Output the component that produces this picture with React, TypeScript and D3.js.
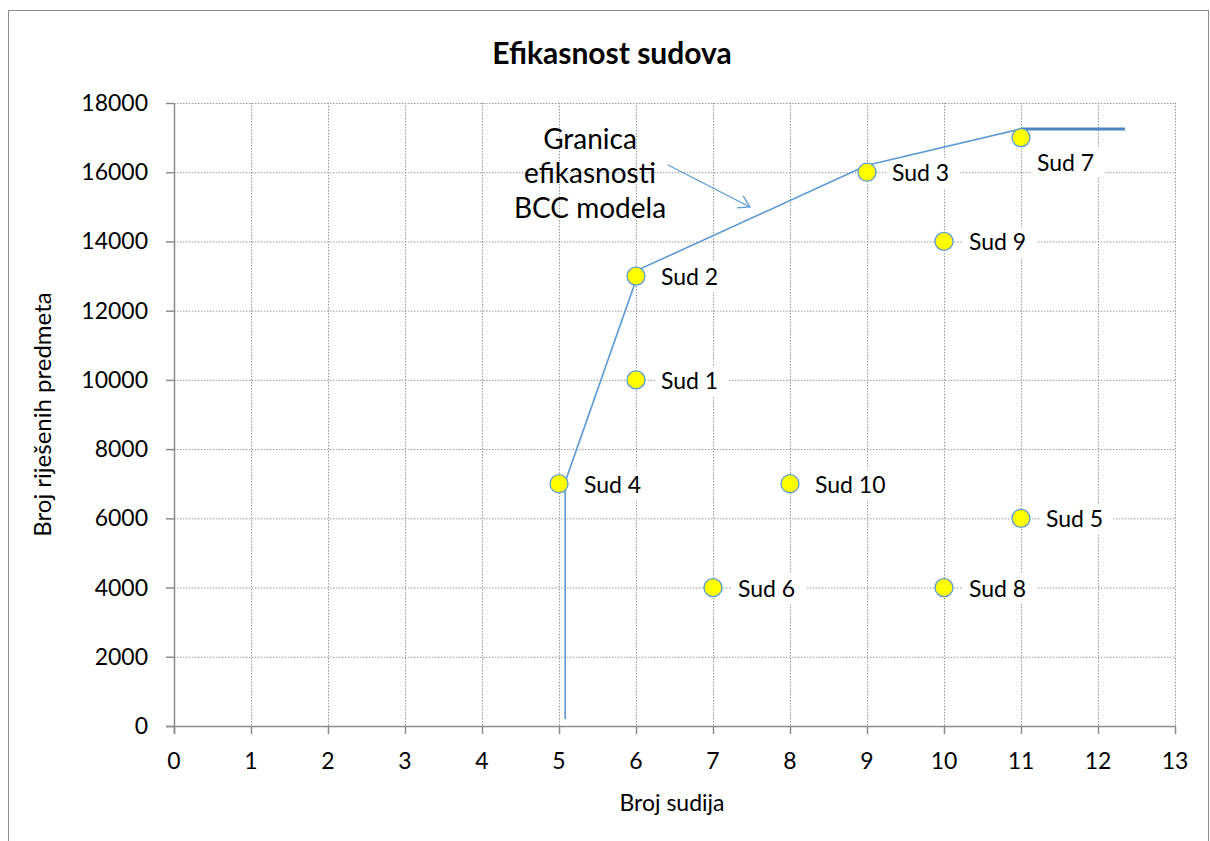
import React, { useEffect } from 'react';
import * as d3 from 'd3';

// courts: judges vs solved cases
const courts = ['Sud 1', 'Sud 2', 'Sud 3', 'Sud 4', 'Sud 5', 'Sud 6', 'Sud 7', 'Sud 8', 'Sud 9', 'Sud 10'];
const judges = [6, 6, 9, 5, 11, 7, 11, 10, 10, 8];
const solved = [10000, 13000, 16000, 7000, 6000, 4000, 17000, 4000, 14000, 7000];

// BCC efficiency frontier (as drawn)
const frontierX = [5.08, 5.08, 6.05, 9, 11];
const frontierY = [200, 7050, 13200, 16200, 17250];
const frontierTailX = [11, 12.35];
const frontierTailY = [17250, 17250];

const xTicks = d3.range(0, 14);
const yTicks = d3.range(0, 18001, 2000);

const W = 1210;
const H = 841;
const margin = { left: 174, right: 35, top: 103, bottom: 115 };
const font = 'Lato, "Open Sans", sans-serif';

const App = () => {
  useEffect(() => {
    document.body.style.margin = '0';
  }, []);

  const x = d3.scaleLinear().domain([0, 13]).range([margin.left, W - margin.right]);
  const y = d3.scaleLinear().domain([0, 18000]).range([H - margin.bottom, margin.top]);

  const line = d3.line<number>().x((d, i) => x(frontierX[i])).y((d, i) => y(frontierY[i]));
  const tail = d3.line<number>().x((d, i) => x(frontierTailX[i])).y((d, i) => y(frontierTailY[i]));

  const x0 = x(0), x1 = x(13), y0 = y(0), y1 = y(18000);

  // arrow pointing at the frontier
  const ax1 = 668, ay1 = 165, ax2 = 750, ay2 = 207;
  const ang = Math.atan2(ay2 - ay1, ax2 - ax1);
  const head = 13;
  const hp = [ang + 2.6, ang - 2.6].map(a => [ax2 + head * Math.cos(a), ay2 + head * Math.sin(a)]);

  const labelPos = courts.map((c, i) => {
    const cx = x(judges[i]);
    const cy = y(solved[i]);
    const below = c === 'Sud 7';
    return { c, cx, cy, lx: below ? cx + 16 : cx + 25, ly: below ? cy + 25 : cy + 1 };
  });

  return (
    <svg width={W} height={H} style={{ display: 'block', fontFamily: font }}>
      <rect x={0} y={0} width={W} height={H} fill="#fff" />
      <rect x={8.5} y={10.5} width={1200} height={H + 10} fill="none" stroke="#8c8c8c" strokeWidth={1} />

      <text x={612} y={64} textAnchor="middle" fontSize={30} fontWeight="bold" fill="#000">Efikasnost sudova</text>

      {/* grid */}
      {yTicks.filter(t => t > 0).map(t => (
        <line key={'gy' + t} x1={x0} x2={x1} y1={y(t) + 0.5} y2={y(t) + 0.5} stroke="#9a9a9a" strokeDasharray="1.5,1.5" />
      ))}
      {xTicks.filter(t => t > 0).map(t => (
        <line key={'gx' + t} x1={x(t) + 0.5} x2={x(t) + 0.5} y1={y1} y2={y0} stroke="#9a9a9a" strokeDasharray="1.5,1.5" />
      ))}

      {/* label backgrounds hide the grid */}
      {labelPos.map(p => (
        <rect key={'bg' + p.c} x={p.lx - 6} y={p.ly - 15} width={p.c.length * 12.3 + 12} height={30} fill="#fff" />
      ))}

      {/* axes */}
      <line x1={x0 + 0.5} x2={x0 + 0.5} y1={y1} y2={y0 + 8} stroke="#8c8c8c" strokeWidth={1.5} />
      <line x1={x0 - 8} x2={x1} y1={y0 + 0.5} y2={y0 + 0.5} stroke="#8c8c8c" strokeWidth={1.5} />
      {yTicks.map(t => (
        <g key={'ty' + t}>
          <line x1={x0 - 8} x2={x0} y1={y(t) + 0.5} y2={y(t) + 0.5} stroke="#8c8c8c" strokeWidth={1.5} />
          <text x={x0 - 26} y={y(t)} dy="0.35em" textAnchor="end" fontSize={23} fill="#000">{t}</text>
        </g>
      ))}
      {xTicks.map(t => (
        <g key={'tx' + t}>
          <line x1={x(t) + 0.5} x2={x(t) + 0.5} y1={y0} y2={y0 + 8} stroke="#8c8c8c" strokeWidth={1.5} />
          <text x={x(t)} y={y0 + 43} textAnchor="middle" fontSize={23} fill="#000">{t}</text>
        </g>
      ))}

      <text x={672} y={811} textAnchor="middle" fontSize={23} fill="#000">Broj sudija</text>
      <text transform={`translate(51,${(y0 + y1) / 2}) rotate(-90)`} textAnchor="middle" fontSize={24} fill="#000">Broj riješenih predmeta</text>

      {/* frontier */}
      <path d={line(frontierX) || ''} fill="none" stroke="#5b9bd5" strokeWidth={1.6} />
      <path d={tail(frontierTailX) || ''} fill="none" stroke="#4a86c5" strokeWidth={3} />

      {/* annotation */}
      <g fontSize={28} textAnchor="middle" fill="#000">
        <text x={590} y={149}>Granica</text>
        <text x={590} y={183}>efikasnosti</text>
        <text x={590} y={218}>BCC modela</text>
      </g>
      <line x1={ax1} y1={ay1} x2={ax2} y2={ay2} stroke="#5b9bd5" strokeWidth={1.3} />
      <polyline points={`${hp[0][0]},${hp[0][1]} ${ax2},${ay2} ${hp[1][0]},${hp[1][1]}`} fill="none" stroke="#5b9bd5" strokeWidth={1.3} />

      {/* points */}
      {labelPos.map(p => (
        <g key={p.c}>
          <circle cx={p.cx} cy={p.cy} r={9} fill="#ffff00" stroke="#5b9bd5" strokeWidth={1.3} />
          <text x={p.lx} y={p.ly} dy="0.35em" fontSize={23} fill="#000">{p.c}</text>
        </g>
      ))}
    </svg>
  );
};

export default App;
